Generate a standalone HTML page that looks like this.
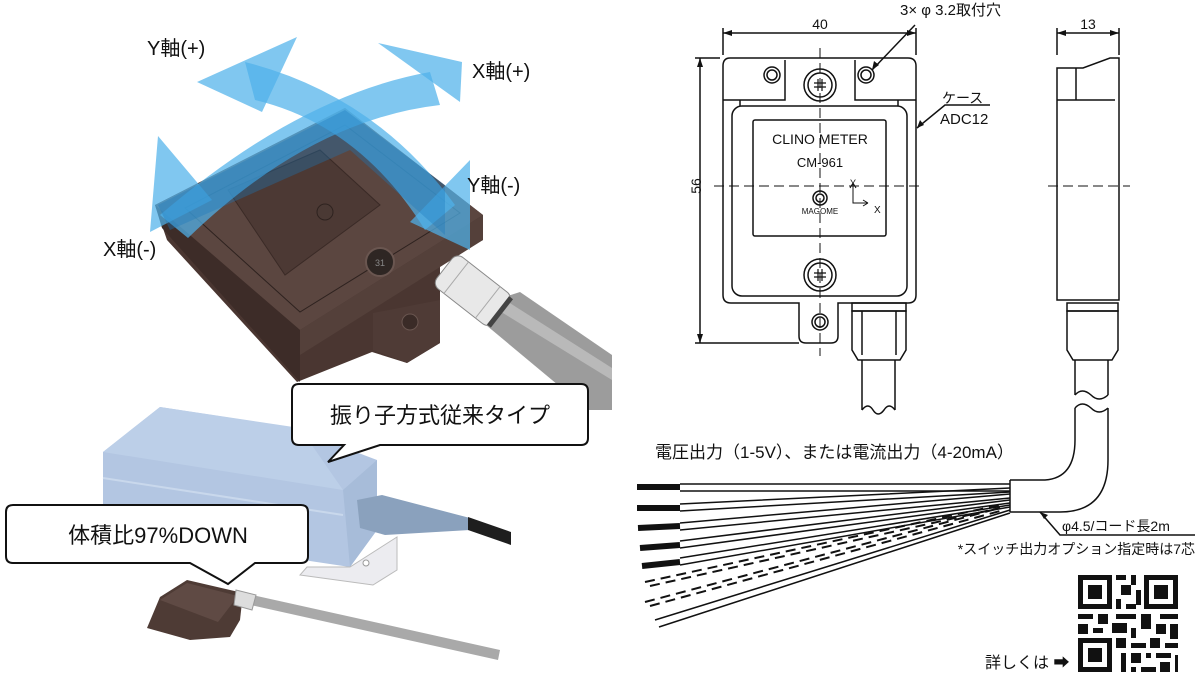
<!DOCTYPE html>
<html><head><meta charset="utf-8"><style>
html,body{margin:0;padding:0;background:#fff;}
body{width:1200px;height:690px;overflow:hidden;position:relative;font-family:"Liberation Sans","Noto Sans CJK JP",sans-serif;}
svg{position:absolute;left:0;top:0;}
</style></head><body>
<svg width="1200" height="690" viewBox="0 0 1200 690" xmlns="http://www.w3.org/2000/svg" font-family="Liberation Sans, Noto Sans CJK JP, sans-serif">
<path d="M495,300 L520,292 L612,355 L612,410 L588,410 L480,320 Z" fill="#9c9c9c"/>
<path d="M505,300 L612,368 L612,380 L498,310 Z" fill="#b9b9b9"/>
<path d="M155,205 L345,108 L483,215 L483,240 L440,262 L440,343 L407,363 L372,352 L297,382 L167,240 Z" fill="#4a3631"/>
<path d="M155,205 L345,108 L483,215 L300,330 Z" fill="#5b4640"/>
<path d="M300,330 L483,215 L483,240 L300,355 Z" fill="#54403a"/>
<path d="M155,205 L300,330 L300,382 L162,228 Z" fill="#3d2c28"/>
<path d="M185,208 L345,125 L460,213 L300,312 Z" fill="none" stroke="#2e221f" stroke-width="1"/>
<path d="M228,190 L320,150 L380,205 L285,275 Z" fill="#4c3934" stroke="#3a2a26"/>
<circle cx="325" cy="212" r="8" fill="#4a3934" stroke="#2e221f"/>
<circle cx="380" cy="262" r="14" fill="#2e2623" stroke="#6a5650" stroke-width="2"/>
<text x="380" y="266" font-size="9" fill="#888" text-anchor="middle">31</text>
<path d="M373,313 L440,300 L440,343 L407,363 L373,350 Z" fill="#4f3b36"/>
<circle cx="410" cy="322" r="8" fill="#3a2b27" stroke="#6a5650"/>
<g transform="rotate(38 472 290)">
<rect x="437" y="270" width="72" height="40" rx="8" fill="#e8e8e8" stroke="#888"/>
<path d="M452,270 V310 M492,270 V310" stroke="#aaa"/>
<rect x="505" y="272" width="5" height="36" fill="#444"/>
</g>
<g fill="#4fb2ea" fill-opacity="0.72">
<path d="M160,215 Q300,95 430,72 L440,105 Q310,120 188,238 Z"/>
<path d="M150,232 L158,136 L212,200 Z"/>
<path d="M378,43 L462,62 L460,102 Z"/>
<path d="M245,62 Q375,95 455,205 L425,230 Q360,125 255,100 Z"/>
<path d="M197,82 L297,37 L262,112 Z"/>
<path d="M470,160 L470,250 L410,222 Z"/>
</g>
<path d="M158,205 L345,110 L445,185 L445,235 L350,150 L170,230 Z" fill="#1a78bd" fill-opacity="0.35"/>
<g font-size="20" fill="#111">
<text x="147" y="55">Y軸(+)</text>
<text x="472" y="78">X軸(+)</text>
<text x="467" y="192">Y軸(-)</text>
<text x="103" y="256">X軸(-)</text>
</g>
<path d="M103,452 L160,407 L290,427 L377,460 L377,530 L350,567 L103,530 Z" fill="#b3c6e2"/>
<path d="M103,452 L160,407 L300,428 L343,490 Z" fill="#bccfe8"/>
<path d="M343,490 L377,460 L377,530 L350,567 Z" fill="#a7bcd9"/>
<path d="M103,478 L343,515" stroke="#c9d8ec" stroke-width="2"/>
<path d="M307,567 L350,567 L397,537 L397,570 L373,585 L300,575 Z" fill="#ececf0" stroke="#bbb"/>
<circle cx="366" cy="563" r="3" fill="#fff" stroke="#999"/>
<path d="M357,500 L382,495 L470,518 L470,530 L385,535 L360,528 Z" fill="#8aa1bd"/>
<path d="M468,517 L511,532 L511,545 L468,530 Z" fill="#1e1e1e"/>
<path d="M299,384 H581 Q588,384 588,391 V438 Q588,445 581,445 H380 L328,462 L344,445 H299 Q292,445 292,438 V391 Q292,384 299,384 Z" fill="#fff" stroke="#111" stroke-width="2"/>
<text x="440" y="423" font-size="22" text-anchor="middle" fill="#111">振り子方式従来タイプ</text>
<path d="M13,505 H301 Q308,505 308,512 V556 Q308,563 301,563 H255 L228,584 L190,563 H13 Q6,563 6,556 V512 Q6,505 13,505 Z" fill="#fff" stroke="#111" stroke-width="2"/>
<text x="158" y="543" font-size="22" text-anchor="middle" fill="#111">体積比97%DOWN</text>
<path d="M248,594 L500,650 L498,660 L246,604 Z" fill="#a9a9a9"/>
<path d="M147,628 L160,597 L187,580 L243,593 L240,620 L230,637 L190,640 Z" fill="#4e3b35"/>
<path d="M160,600 L187,583 L238,596 L218,622 Z" fill="#5f4a44"/>
<path d="M236,590 L256,595 L252,610 L234,605 Z" fill="#ddd" stroke="#999"/>

<g stroke="#111" fill="none" stroke-width="1.5">
<path d="M730,58 H908 Q916,58 916,66 V295 Q916,303 908,303 H838 V336 Q838,343 831,343 H806 Q799,343 799,336 V303 H731 Q723,303 723,295 V66 Q723,58 730,58 Z"/>
<path d="M723,100 H785 V60 M916,100 H855 V60"/>
<rect x="732" y="106" width="175" height="190" rx="10"/>
<path d="M740,106 V100 M898,106 V100"/>
<rect x="753" y="120" width="133" height="116" rx="2"/>
<circle cx="772" cy="75" r="8"/><circle cx="772" cy="75" r="5"/>
<circle cx="866" cy="75" r="8"/><circle cx="866" cy="75" r="5"/>
<circle cx="820" cy="322" r="8"/><circle cx="820" cy="322" r="5"/>
<circle cx="820" cy="85" r="16"/><circle cx="820" cy="85" r="12"/>
<circle cx="820" cy="275" r="16"/><circle cx="820" cy="275" r="12"/>
<path d="M814,83 h12 M814,87 h12 M818,79 v12 M822,79 v12 M814,273 h12 M814,277 h12 M818,269 v12 M822,269 v12" stroke-width="1.2"/>
<circle cx="820" cy="198" r="7"/><circle cx="820" cy="198" r="4"/>
<rect x="852" y="303" width="54" height="8"/>
<path d="M852,311 H906 V350 L900,360 H858 L852,350 Z"/>
<path d="M862,311 V355 M896,311 V355"/>
<path d="M862,360 V410 M895,360 V410"/>
<path d="M862,410 Q868,402 873,410 Q878,418 884,410 Q889,402 895,410"/>
<path d="M723,55 V28 M916,55 V28 M723,33 H916"/>
<path d="M720,58 H695 M799,343 H695 M700,58 V343"/>
<path d="M915,25 L872,70"/>
<path d="M917,128 L945,105 H990"/>
<path d="M1057,68 H1083 L1110,58 H1119 V300 H1057 Z"/>
<path d="M1057,100 H1115 M1076,68 V100"/>
<path d="M1057,55 V28 M1119,55 V28 M1057,33 H1119"/>
<rect x="1067" y="303" width="51" height="8"/>
<path d="M1067,311 H1118 V350 L1112,360 H1073 L1067,350 Z"/>
<path d="M1075,360 V395 M1108,360 V395"/>
<path d="M1075,395 Q1082,387 1091,395 Q1099,403 1108,395"/>
<path d="M1075,408 Q1082,400 1091,408 Q1099,416 1108,408"/>
<path d="M1075,408 V440 Q1075,478 1045,480 H1010 M1108,408 V460 Q1108,512 1060,512 H1010 M1010,480 V512"/>
<path d="M1040,512 L1060,535 H1195"/>
</g>
<g fill="#111">
<path d="M723,33 l9,-3 v6 Z"/><path d="M916,33 l-9,-3 v6 Z"/>
<path d="M700,58 l-3,9 h6 Z"/><path d="M700,343 l-3,-9 h6 Z"/>
<path d="M1057,33 l9,-3 v6 Z"/><path d="M1119,33 l-9,-3 v6 Z"/>
<path d="M872,70 l2,-9 l5,4 Z"/>
<path d="M917,128 l3,-8 l4,5 Z"/>
<path d="M1040,512 l8,3 l-4,4 Z"/>
</g>
<g stroke="#111" stroke-width="1" stroke-dasharray="10,5" fill="none">
<path d="M714,186 H922"/><path d="M820,48 V356"/>
<path d="M1048,186 H1130"/>
</g>
<path d="M853,183 V203 H868" stroke="#111" fill="none"/>
<path d="M868,203 l-5,-3 M868,203 l-5,3 M853,183 l-3,5 M853,183 l3,5" stroke="#111"/>
<g fill="#111">
<text x="820" y="29" font-size="14" text-anchor="middle">40</text>
<text x="1088" y="29" font-size="14" text-anchor="middle">13</text>
<text x="900" y="15" font-size="15">3× φ 3.2取付穴</text>
<text x="942" y="103" font-size="14">ケース</text>
<text x="940" y="124" font-size="15">ADC12</text>
<text x="696" y="191" font-size="14" text-anchor="middle" transform="rotate(-90 696 186)">56</text>
<text x="820" y="144" font-size="14" text-anchor="middle">CLINO METER</text>
<text x="820" y="167" font-size="13" text-anchor="middle">CM-961</text>
<text x="820" y="214" font-size="8" text-anchor="middle">MAGOME</text>
<text x="850" y="186" font-size="9">Y</text>
<text x="874" y="213" font-size="10">X</text>
<text x="655" y="458" font-size="17">電圧出力（1-5V）、または電流出力（4-20mA）</text>
<text x="1062" y="531" font-size="14">φ4.5/コード長2m</text>
<text x="1195" y="554" font-size="14" text-anchor="end">*スイッチ出力オプション指定時は7芯</text>
<text x="985" y="668" font-size="16">詳しくは ➡</text>
</g>
<g stroke="#111" fill="none">
<g stroke-width="6">
<path d="M637,487 H680"/><path d="M637,508 H680"/><path d="M638,528 L680,526"/><path d="M640,548 L680,545"/><path d="M642,566 L680,562"/>
</g>
<g stroke-width="1.5">
<path d="M680,484 H1010 M680,491 H1010"/>
<path d="M680,504 L1010,488 M680,511 L1010,492"/>
<path d="M680,523 L1010,494 M680,530 L1010,498"/>
<path d="M680,541 L1010,500 M680,548 L1010,503"/>
<path d="M680,558 L1010,505 M680,565 L1010,507"/>
<path d="M655,620 L1010,510 M659,627 L1010,513"/>
</g>
<g stroke-width="2" stroke-dasharray="10,6">
<path d="M645,582 L1000,505 M650,586 L1000,508"/>
<path d="M645,602 L1000,508 M650,606 L1000,511"/>
</g>
</g>
<g fill="#111" transform="translate(1078,575)">
<rect x="0" y="0" width="34" height="34"/><rect x="5" y="5" width="24" height="24" fill="#fff"/><rect x="10" y="10" width="14" height="14"/>
<rect x="66" y="0" width="34" height="34"/><rect x="71" y="5" width="24" height="24" fill="#fff"/><rect x="76" y="10" width="14" height="14"/>
<rect x="0" y="63" width="34" height="34"/><rect x="5" y="68" width="24" height="24" fill="#fff"/><rect x="10" y="73" width="14" height="14"/>
<path d="M38,0h10v5h-10zM53,0h5v10h-5zM43,10h10v10h-10zM38,24h5v10h-5zM58,15h5v15h-5zM48,29h10v5h-10z"/>
<path d="M0,39h15v5h-15zM20,39h10v10h-10zM38,39h20v5h-20zM63,39h10v15h-10zM82,39h18v5h-18zM0,49h10v10h-10zM15,53h10v5h-10zM34,48h15v10h-15zM53,53h5v10h-5zM78,49h10v10h-10zM92,49h8v15h-8z"/>
<path d="M38,63h10v10h-10zM53,68h15v5h-15zM72,63h10v10h-10zM87,68h13v5h-13zM43,78h5v19h-5zM53,78h10v10h-10zM68,78h5v5h-5zM78,78h15v5h-15zM63,92h15v5h-15zM82,87h10v10h-10zM97,80h3v17h-3zM53,92h5v5h-5z"/>
</g>
</svg>
</body></html>
